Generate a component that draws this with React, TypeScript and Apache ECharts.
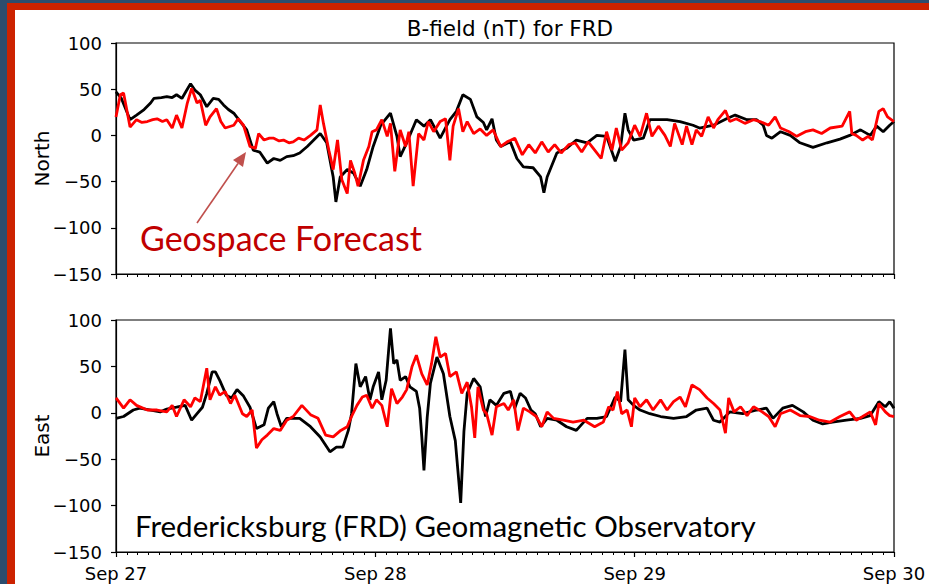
import React, { useEffect, useRef } from "react";
import * as echarts from "echarts";

// hours since Sep 27 00:00, value in nT
const northObs: number[][] = [[0,47],[0.5,40],[1.3,17],[1.9,22],[2.6,28],[3.2,35],[3.5,40],[4.2,41],[4.7,42],[5.2,41],[5.6,44],[6.1,40],[6.5,48],[6.9,56],[7.3,49],[7.8,44],[8.4,31],[9.0,40],[9.5,39],[9.95,33],[10.4,28],[10.9,24],[11.5,15],[12.1,6],[12.7,-16],[13.3,-18],[14.0,-30],[14.6,-25],[15.2,-27],[15.8,-23],[16.4,-22],[17,-19],[17.7,-12],[18.3,-5],[18.9,2],[19.5,-8],[20.1,-45],[20.35,-72],[20.75,-45],[21.4,-37],[22,-41],[22.6,-55],[23.2,-37],[23.8,-12],[24.5,11],[25.4,24],[26,-1],[26.3,-23],[26.9,-8],[27.8,17],[28.5,10],[29.1,17],[30,-3],[30.9,17],[31.5,26],[32.1,44],[32.8,39],[33.4,20],[34,14],[34.3,6],[34.8,18],[35.2,-5],[35.6,-12],[36.5,-7],[37.1,-25],[37.7,-34],[38.6,-35],[39.3,-45],[39.6,-62],[39.9,-45],[40.8,-19],[41.7,-14],[42.6,-5],[43.6,-8],[44.5,0],[45.4,-1],[46.2,-28],[46.7,-12],[47.1,24],[47.4,6],[47.9,-5],[48.8,-3],[49.4,17],[50.4,17],[51,17],[52.2,15],[53.4,11],[54,8],[55.3,11],[56.5,18],[57.3,22],[58.4,17],[59.3,17],[59.9,11],[60.2,0],[60.7,-3],[61.5,4],[62.4,0],[63.3,-8],[64.5,-13],[65.8,-8],[67,-4],[67.9,0],[68.9,6],[69.8,0],[70.4,10],[71,4],[71.6,11],[72,15]];

const northFcst: number[][] = [[0,20],[0.4,44],[0.7,46],[1.3,9],[1.9,17],[2.4,14],[2.9,15],[3.4,17],[3.8,18],[4.3,15],[4.7,17],[5.2,8],[5.6,22],[6.1,8],[6.6,35],[7.0,51],[7.5,35],[7.8,38],[8.3,11],[8.7,20],[9.3,29],[9.7,15],[10.1,8],[10.9,11],[11.3,18],[11.8,11],[12.4,-12],[12.9,-14],[13.2,2],[13.7,-5],[14.2,-3],[14.6,-3],[15.1,-6],[15.5,-5],[16,-8],[16.4,-7],[16.9,-3],[17.4,-5],[18,0],[18.6,6],[18.9,33],[19.2,13],[19.7,-16],[20.1,-37],[20.5,-5],[20.9,-48],[21.4,-63],[21.7,-27],[22.1,-41],[22.4,-55],[22.9,-27],[23.4,-12],[23.7,4],[24.1,6],[24.6,17],[25.1,-1],[25.4,13],[25.8,-39],[26.3,6],[26.8,-12],[27.1,4],[27.5,-55],[28,2],[28.5,-5],[28.9,15],[29.4,4],[30,15],[30.5,18],[30.9,-27],[31.2,10],[31.7,29],[32.1,4],[32.5,15],[33.1,2],[33.7,7],[34.3,0],[34.9,6],[35.6,-12],[36.2,-7],[36.9,-3],[37.6,-21],[38.2,-10],[38.8,-19],[39.4,-7],[40,-18],[40.6,-10],[41.2,-19],[41.9,-10],[42.5,-8],[43.1,-18],[43.7,-7],[44.3,-16],[44.9,-25],[45.4,4],[45.9,-16],[46.3,8],[46.8,-16],[47.4,-8],[48,11],[48.5,-1],[49.1,24],[49.6,-1],[50.2,10],[50.8,0],[51.3,-12],[51.7,13],[52.4,-10],[52.8,10],[53.3,-10],[53.7,6],[54.2,-1],[54.8,20],[55.3,8],[55.7,17],[56.4,27],[56.8,15],[57.4,18],[58.2,13],[59,17],[59.6,15],[60.4,11],[61,20],[61.5,8],[62.3,4],[63,-1],[63.8,4],[64.5,6],[65.3,2],[66.1,8],[67.2,10],[67.9,26],[68.1,2],[68.5,0],[69.1,-5],[69.6,-1],[70,-5],[70.6,26],[71,29],[71.4,20],[72,15]];

const eastObs: number[][] = [[0,-6],[0.7,-4],[1.6,3],[2.2,5],[3.2,3],[4.1,1],[4.7,4],[5.6,6],[6.4,8],[7,-8],[7.5,-1],[8,6],[8.4,21],[8.9,44],[9.2,44],[9.6,35],[10.2,19],[10.7,16],[11.2,25],[11.8,18],[12.4,6],[13,-17],[13.7,-13],[14.1,5],[14.6,12],[14.9,-1],[15.3,-15],[15.8,-6],[17,-6],[18,-15],[18.9,-26],[19.8,-42],[20.4,-37],[21,-37],[21.5,-19],[21.8,-1],[22.2,53],[22.6,28],[23.1,39],[23.5,14],[23.8,28],[24.3,44],[24.6,14],[25,35],[25.4,91],[25.7,53],[26,57],[26.3,35],[26.8,39],[27.2,28],[27.8,23],[28.1,5],[28.3,-26],[28.5,-62],[28.8,-5],[29.1,32],[29.7,60],[30.3,42],[30.9,-4],[31.4,-30],[31.9,-97],[32.2,-20],[32.5,21],[33.1,37],[33.7,28],[34.2,-4],[34.6,14],[35.2,8],[35.9,21],[36.5,23],[36.9,5],[37.4,21],[37.9,16],[38.4,3],[38.8,-1],[39.3,-15],[39.9,-6],[40.8,-8],[41.7,-15],[42.6,-19],[43.6,-6],[44.5,-6],[45.4,-4],[46.2,17],[46.7,12],[47.1,68],[47.4,14],[47.9,8],[48.5,3],[49.4,-1],[50.4,-4],[51.6,-6],[52.8,-4],[53.7,3],[54.7,5],[55.3,-8],[55.9,-10],[56.8,1],[58,-1],[59.3,3],[60.2,5],[60.8,-6],[61.7,5],[62.6,8],[63.6,1],[64.5,-8],[65.4,-12],[66.3,-10],[67.6,-8],[68.9,-6],[69.8,-3],[70.6,12],[71.2,6.5],[71.6,12],[72,5]];

const eastFcst: number[][] = [[0,16],[0.7,5],[1.3,14],[1.9,8],[2.9,3],[3.8,3],[4.7,1],[5.2,8],[5.6,-4],[6.3,14],[6.9,6.5],[7.3,16],[7.8,12],[8.1,30],[8.4,48],[8.7,14],[9.2,28],[9.6,19],[10.1,23],[10.6,10],[11,19],[11.7,-1],[12.1,-4],[12.6,3],[13,-38],[13.5,-29],[14,-24],[14.6,-17],[15.2,-19],[15.8,-8],[16.4,-4],[17.2,8],[18,-2],[18.7,-6],[19.4,-24],[20.1,-26],[20.8,-19],[21.4,-15],[21.8,-4],[22.3,8],[22.8,17],[23.2,19],[23.7,5],[24.1,14],[24.6,8],[25.1,-15],[25.5,26],[26,10],[26.5,17],[26.9,25],[27.4,50],[27.8,62],[28.3,42],[28.8,30],[29.2,53],[29.6,82],[30,60],[30.5,64],[30.9,39],[31.5,44],[32,21],[32.5,33],[32.9,6.5],[33.2,-27],[33.5,28],[34,3],[34.3,-1],[34.8,-24],[35.2,6.5],[35.9,10],[36.3,3],[36.8,14],[37.2,-19],[37.7,5],[38.3,1],[38.9,-4],[39.4,-15],[39.9,1],[40.5,-6],[41.4,-8],[42.3,-10],[43.3,-8],[44.3,-15],[45.1,-10],[45.6,6.5],[46,3],[46.4,23],[46.8,-1],[47.3,3],[47.7,-15],[48,16],[48.5,6.5],[49.1,14],[49.7,3],[50.4,14],[51,3],[51.6,12],[52.2,17],[52.7,6.5],[53.3,30],[54,25],[54.7,16],[55.3,10],[55.9,3],[56.4,-22],[56.7,16],[57.2,1],[57.8,6.5],[58.4,-3],[59,6.5],[59.8,1],[60.4,-4],[61,-15],[61.5,-1],[62.4,3],[63.3,-3],[64.2,-4],[65.1,-8],[66.1,-10],[67,-4],[67.9,1],[68.5,-8],[69.1,-4],[69.8,1],[70.3,-13],[70.6,10],[71.2,1],[71.6,-3],[72,-4]];

const dayLabels: string[] = ["Sep 27", "Sep 28", "Sep 29", "Sep 30"];
const yTicks = { min: -150, max: 100, step: 50 };
const panelNames: string[] = ["North", "East"];
const titleText = "B-field (nT) for FRD";

const MPL = "DejaVu Sans";
const W = 929;
const H = 584;
const GRID_TOPS = [43, 320];
const GRID_HEIGHTS = [231, 232];

function App() {
  const ref = useRef<HTMLDivElement>(null);
  useEffect(() => {
    document.body.style.margin = "0";
    document.body.style.background = "#ffffff";
    document.documentElement.style.overflow = "hidden";
    const chart = echarts.init(ref.current!, undefined, { renderer: "svg" });
    const fmtY = (v: number) => (v < 0 ? "\u2212" + Math.abs(v) : String(v));
    const xAxisBase = (gi: number, showLabel: boolean) => ({
      type: "value",
      gridIndex: gi,
      min: 0,
      max: 72,
      interval: 24,
      axisLine: { show: true, onZero: false, lineStyle: { color: "#000", width: 1.2 } },
      axisTick: { show: true, inside: false, length: 5, lineStyle: { color: "#000", width: 1.2 } },
      minorTick: { show: true, splitNumber: 24, length: 3, lineStyle: { color: "#000", width: 1 } },
      splitLine: { show: false },
      axisLabel: {
        show: showLabel,
        color: "#000",
        fontFamily: MPL,
        fontSize: 18,
        margin: 12,
        formatter: (v: number) => dayLabels[Math.round(v / 24)] ?? "",
      },
    });
    const yAxisBase = (gi: number) => ({
      type: "value",
      gridIndex: gi,
      min: yTicks.min,
      max: yTicks.max,
      interval: yTicks.step,
      axisLine: { show: true, onZero: false, lineStyle: { color: "#000", width: 1.2 } },
      axisTick: { show: true, inside: false, length: 5, lineStyle: { color: "#000", width: 1.2 } },
      splitLine: { show: false },
      axisLabel: { color: "#000", fontFamily: MPL, fontSize: 18, margin: 14, formatter: fmtY },
    });
    const line = (data: number[][], color: string, xi: number, yi: number) => ({
      type: "line",
      xAxisIndex: xi,
      yAxisIndex: yi,
      data,
      showSymbol: false,
      symbol: "none",
      lineStyle: { color, width: 2.8 },
      z: color === "#ff0000" ? 3 : 2,
    });
    chart.setOption({
      animation: false,
      backgroundColor: "transparent",
      title: {
        text: titleText,
        left: 505,
        textAlign: "center",
        top: 12,
        textStyle: { color: "#000", fontFamily: MPL, fontSize: 21.5, fontWeight: "normal" },
      },
      grid: GRID_TOPS.map((t, i) => ({
        left: 116, top: t, right: 35, height: GRID_HEIGHTS[i],
        show: true, borderColor: "#000", borderWidth: 1.2, backgroundColor: "transparent",
      })),
      xAxis: [xAxisBase(0, false), xAxisBase(1, true)],
      yAxis: [yAxisBase(0), yAxisBase(1)],
      series: [
        line(northObs, "#000000", 0, 0),
        line(northFcst, "#ff0000", 0, 0),
        line(eastObs, "#000000", 1, 1),
        line(eastFcst, "#ff0000", 1, 1),
      ],
      graphic: [
        ...panelNames.map((name, i) => ({
          type: "text", z: 50,
          x: 42, y: GRID_TOPS[i] + GRID_HEIGHTS[i] / 2,
          rotation: Math.PI / 2,
          style: { text: name, fill: "#000", font: `20px '${MPL}'`, align: "center", verticalAlign: "middle" },
        })),
        {
          type: "line", z: 50,
          shape: { x1: 197, y1: 223, x2: 238, y2: 163.5 },
          style: { stroke: "#c0504d", lineWidth: 1.6 },
        },
        {
          type: "polygon", z: 50,
          shape: { points: [[246, 152], [243, 167], [233, 160]] },
          style: { fill: "#c0504d" },
        },
        {
          type: "text", z: 50, left: 140, top: 220,
          style: { text: "Geospace Forecast", fill: "#c00000", font: "34px Lato" },
        },
        {
          type: "text", z: 50, left: 135, top: 510,
          style: { text: "Fredericksburg (FRD) Geomagnetic Observatory", fill: "#000000", font: "29.5px Lato" },
        },
      ],
    });
    return () => chart.dispose();
  }, []);
  return (
    <div style={{ position: "absolute", left: 0, top: 0, width: W, height: H, background: "#ffffff", overflow: "hidden" }}>
      <div style={{ position: "absolute", left: 0, top: 0, width: 2000, height: 3, background: "#2c4d6e" }} />
      <div style={{ position: "absolute", left: 0, top: 0, width: 7, height: 2000, background: "#2c4d6e" }} />
      <div style={{ position: "absolute", left: 7, top: 3, width: 2000, height: 7, background: "#cc2200" }} />
      <div style={{ position: "absolute", left: 7, top: 3, width: 8, height: 2000, background: "#cc2200" }} />
      <div ref={ref} style={{ position: "absolute", left: 0, top: 0, width: W, height: H }} />
    </div>
  );
}

export default App;
